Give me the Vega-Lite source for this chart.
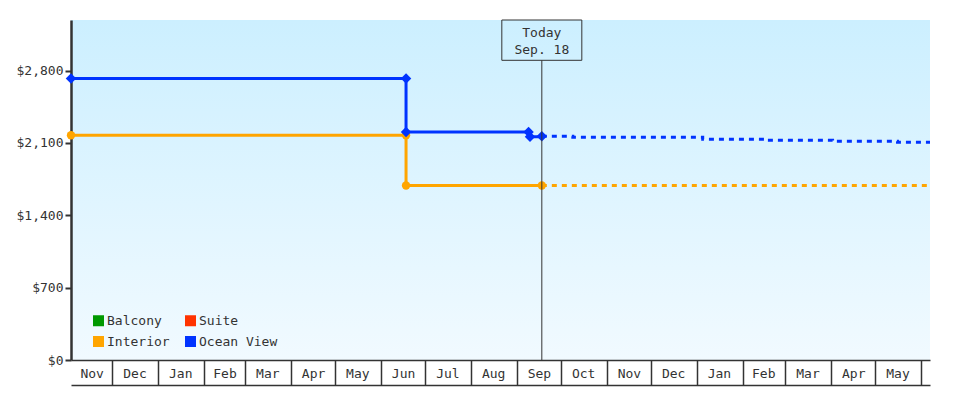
{
  "$schema": "https://vega.github.io/schema/vega-lite/v6.json",
  "width": 859,
  "height": 340,
  "autosize": {"type": "none"},
  "padding": {"left": 71, "top": 20, "right": 50, "bottom": 40},
  "background": "white",
  "datasets": {
    "prices": [
      {"cabin": "Interior", "date": "2022-11-03", "price": 2175, "kind": "actual"},
      {"cabin": "Interior", "date": "2023-06-18", "price": 2175, "kind": "actual"},
      {"cabin": "Interior", "date": "2023-06-18", "price": 1688, "kind": "actual"},
      {"cabin": "Interior", "date": "2023-09-18", "price": 1688, "kind": "actual"},
      {"cabin": "Interior", "date": "2023-09-18", "price": 1688, "kind": "forecast"},
      {"cabin": "Interior", "date": "2024-06-07", "price": 1688, "kind": "forecast"},
      {"cabin": "Ocean View", "date": "2022-11-03", "price": 2725, "kind": "actual"},
      {"cabin": "Ocean View", "date": "2023-06-18", "price": 2725, "kind": "actual"},
      {"cabin": "Ocean View", "date": "2023-06-18", "price": 2207, "kind": "actual"},
      {"cabin": "Ocean View", "date": "2023-09-09", "price": 2207, "kind": "actual"},
      {"cabin": "Ocean View", "date": "2023-09-10", "price": 2160, "kind": "actual"},
      {"cabin": "Ocean View", "date": "2023-09-18", "price": 2165, "kind": "actual"},
      {"cabin": "Ocean View", "date": "2023-09-18", "price": 2165, "kind": "forecast"},
      {"cabin": "Ocean View", "date": "2023-10-09", "price": 2156, "kind": "forecast"},
      {"cabin": "Ocean View", "date": "2024-01-05", "price": 2137, "kind": "forecast"},
      {"cabin": "Ocean View", "date": "2024-02-18", "price": 2127, "kind": "forecast"},
      {"cabin": "Ocean View", "date": "2024-04-02", "price": 2117, "kind": "forecast"},
      {"cabin": "Ocean View", "date": "2024-05-16", "price": 2108, "kind": "forecast"},
      {"cabin": "Ocean View", "date": "2024-06-07", "price": 2108, "kind": "forecast"}
    ],
    "today": [{"date": "2023-09-18", "label": "Today\nSep. 18"}]
  },
  "resolve": {"axis": {"x": "independent"}},
  "layer": [
    {
      "data": {"name": "prices"},
      "transform": [{"filter": "datum.kind === 'actual'"}],
      "mark": {"type": "line", "interpolate": "step-after", "strokeWidth": 3},
      "encoding": {
        "x": {
          "field": "date",
          "type": "temporal",
          "scale": {
            "type": "utc",
            "domain": [
              {"year": 2022, "month": 11, "date": 3, "utc": true},
              {"year": 2024, "month": 6, "date": 7, "utc": true}
            ]
          },
          "axis": {
            "orient": "bottom",
            "title": null,
            "grid": false,
            "labels": false,
            "domain": true,
            "domainColor": "#333",
            "domainWidth": 1.5,
            "ticks": true,
            "tickSize": 25,
            "tickColor": "#333",
            "tickWidth": 1.5,
            "values": [
              {"year": 2022, "month": 12, "date": 1, "utc": true},
              {"year": 2023, "month": 1, "date": 1, "utc": true},
              {"year": 2023, "month": 2, "date": 1, "utc": true},
              {"year": 2023, "month": 3, "date": 1, "utc": true},
              {"year": 2023, "month": 4, "date": 1, "utc": true},
              {"year": 2023, "month": 5, "date": 1, "utc": true},
              {"year": 2023, "month": 6, "date": 1, "utc": true},
              {"year": 2023, "month": 7, "date": 1, "utc": true},
              {"year": 2023, "month": 8, "date": 1, "utc": true},
              {"year": 2023, "month": 9, "date": 1, "utc": true},
              {"year": 2023, "month": 10, "date": 1, "utc": true},
              {"year": 2023, "month": 11, "date": 1, "utc": true},
              {"year": 2023, "month": 12, "date": 1, "utc": true},
              {"year": 2024, "month": 1, "date": 1, "utc": true},
              {"year": 2024, "month": 2, "date": 1, "utc": true},
              {"year": 2024, "month": 3, "date": 1, "utc": true},
              {"year": 2024, "month": 4, "date": 1, "utc": true},
              {"year": 2024, "month": 5, "date": 1, "utc": true},
              {"year": 2024, "month": 6, "date": 1, "utc": true}
            ]
          }
        },
        "y": {
          "field": "price",
          "type": "quantitative",
          "scale": {"domain": [0, 3290], "nice": false},
          "axis": {
            "title": null,
            "grid": false,
            "values": [0, 700, 1400, 2100, 2800],
            "format": "$,.0f",
            "domainColor": "#333",
            "domainWidth": 2.5,
            "tickColor": "#333",
            "tickWidth": 2,
            "tickSize": 6,
            "labelPadding": 2
          }
        },
        "color": {
          "field": "cabin",
          "type": "nominal",
          "scale": {
            "domain": ["Balcony", "Suite", "Interior", "Ocean View"],
            "range": ["#009900", "#ff3300", "#ffa500", "#0033ff"]
          },
          "legend": {
            "title": null,
            "orient": "none",
            "direction": "horizontal",
            "legendX": 21,
            "legendY": 294,
            "columns": 2,
            "symbolType": "square",
            "symbolSize": 121,
            "symbolStrokeWidth": 0,
            "symbolOpacity": 1,
            "labelFont": "DejaVu Sans Mono",
            "labelFontSize": 13,
            "labelColor": "#333",
            "labelOffset": 2,
            "rowPadding": 7,
            "columnPadding": 14,
            "padding": 0,
            "encode": {
              "symbols": {
                "update": {
                  "fill": {"scale": "color", "field": "value"},
                  "stroke": {"value": "transparent"},
                  "opacity": {"value": 1}
                }
              }
            }
          }
        }
      }
    },
    {
      "data": {"name": "prices"},
      "transform": [{"filter": "datum.kind === 'forecast'"}],
      "mark": {"type": "line", "interpolate": "step-after", "strokeWidth": 3, "strokeDash": [5, 5]},
      "encoding": {
        "x": {"field": "date", "type": "temporal", "axis": null},
        "y": {"field": "price", "type": "quantitative"},
        "color": {"field": "cabin", "type": "nominal"}
      }
    },
    {
      "data": {"name": "prices"},
      "transform": [{"filter": "datum.kind === 'actual' && datum.cabin === 'Interior'"}],
      "mark": {"type": "point", "shape": "circle", "filled": true, "opacity": 1, "size": 70},
      "encoding": {
        "x": {
          "field": "date",
          "type": "temporal",
          "axis": {
            "orient": "bottom",
            "title": null,
            "grid": false,
            "domain": false,
            "ticks": false,
            "labelPadding": 7,
            "labelExpr": "utcFormat(datum.value, '%b')",
            "values": [
              {"year": 2022, "month": 11, "date": 17, "utc": true},
              {"year": 2022, "month": 12, "date": 16, "utc": true},
              {"year": 2023, "month": 1, "date": 16, "utc": true},
              {"year": 2023, "month": 2, "date": 15, "utc": true},
              {"year": 2023, "month": 3, "date": 16, "utc": true},
              {"year": 2023, "month": 4, "date": 16, "utc": true},
              {"year": 2023, "month": 5, "date": 16, "utc": true},
              {"year": 2023, "month": 6, "date": 16, "utc": true},
              {"year": 2023, "month": 7, "date": 16, "utc": true},
              {"year": 2023, "month": 8, "date": 16, "utc": true},
              {"year": 2023, "month": 9, "date": 16, "utc": true},
              {"year": 2023, "month": 10, "date": 16, "utc": true},
              {"year": 2023, "month": 11, "date": 16, "utc": true},
              {"year": 2023, "month": 12, "date": 16, "utc": true},
              {"year": 2024, "month": 1, "date": 16, "utc": true},
              {"year": 2024, "month": 2, "date": 15, "utc": true},
              {"year": 2024, "month": 3, "date": 16, "utc": true},
              {"year": 2024, "month": 4, "date": 16, "utc": true},
              {"year": 2024, "month": 5, "date": 16, "utc": true}
            ]
          }
        },
        "y": {"field": "price", "type": "quantitative"},
        "color": {"field": "cabin", "type": "nominal"}
      }
    },
    {
      "data": {"name": "prices"},
      "transform": [{"filter": "datum.kind === 'actual' && datum.cabin === 'Ocean View'"}],
      "mark": {"type": "point", "shape": "diamond", "filled": true, "opacity": 1, "size": 110},
      "encoding": {
        "x": {"field": "date", "type": "temporal", "axis": null},
        "y": {"field": "price", "type": "quantitative"},
        "color": {"field": "cabin", "type": "nominal"}
      }
    },
    {
      "data": {"name": "today"},
      "mark": {"type": "rule", "color": "#333", "strokeWidth": 1},
      "encoding": {
        "x": {
          "field": "date",
          "type": "temporal",
          "axis": {
            "orient": "bottom",
            "title": null,
            "grid": false,
            "labels": false,
            "ticks": false,
            "domain": true,
            "domainColor": "#333",
            "domainWidth": 1.5,
            "offset": 25
          }
        },
        "y": {"datum": 0, "type": "quantitative"},
        "y2": {"datum": 2900}
      }
    },
    {
      "data": {"name": "today"},
      "mark": {"type": "rect", "fill": null, "stroke": "#333", "strokeWidth": 1, "xOffset": -40, "x2Offset": 40},
      "encoding": {
        "x": {"field": "date", "type": "temporal", "axis": null},
        "x2": {"field": "date"},
        "y": {"datum": 3290, "type": "quantitative"},
        "y2": {"datum": 2900}
      }
    },
    {
      "data": {"name": "today"},
      "mark": {
        "type": "text",
        "lineBreak": "\n",
        "align": "center",
        "baseline": "top",
        "dy": 7,
        "lineHeight": 17,
        "font": "DejaVu Sans Mono",
        "fontSize": 13,
        "color": "#333"
      },
      "encoding": {
        "x": {"field": "date", "type": "temporal", "axis": null},
        "y": {"datum": 3290, "type": "quantitative"},
        "text": {"field": "label"}
      }
    }
  ],
  "config": {
    "view": {
      "stroke": null,
      "fill": {
        "gradient": "linear",
        "x1": 0, "y1": 0, "x2": 0, "y2": 1,
        "stops": [
          {"offset": 0, "color": "#ccefff"},
          {"offset": 1, "color": "#f1faff"}
        ]
      }
    },
    "axis": {
      "labelFont": "DejaVu Sans Mono",
      "labelFontSize": 13,
      "labelColor": "#333"
    }
  }
}
